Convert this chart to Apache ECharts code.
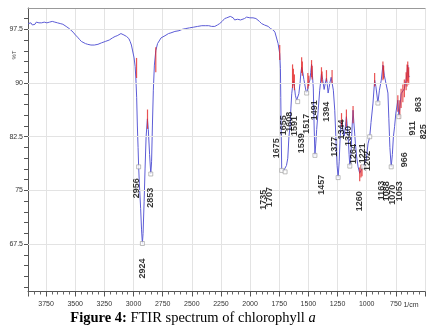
<!DOCTYPE html>
<html><head><meta charset="utf-8">
<script src="https://cdn.jsdelivr.net/npm/echarts@6/dist/echarts.min.js"></script>
<style>html,body{margin:0;padding:0;background:#fff;}#c{width:427px;height:326px;}</style>
</head><body><div id="c"></div>
<script>
// ---- data ----
const wavenumbers = [3903,3891,3880,3868,3857,3845,3834,3822,3811,3800,3788,3777,3766,3754,3743,3731,3720,3709,3697,3686,3675,3663,3652,3640,3629,3618,3606,3592,3578,3567,3552,3535,3518,3498,3480,3464,3447,3430,3412,3393,3365,3336,3305,3276,3242,3208,3180,3158,3140,3123,3108,3095,3082,3071,3060,3052,3040,3029,3018,3009,2995,2986,2980,2973,2967,2961,2956,2950,2939,2931,2924,2918,2909,2901,2892,2881,2873,2862,2852,2845,2838,2830,2821,2809,2794,2764,2730,2700,2679,2645,2610,2580,2551,2520,2483,2450,2414,2385,2355,2330,2303,2280,2261,2240,2218,2200,2184,2170,2158,2145,2133,2120,2107,2095,2082,2065,2048,2030,2016,2002,1988,1975,1962,1950,1936,1920,1902,1890,1877,1860,1845,1825,1802,1787,1774,1760,1746,1740,1737,1734,1729,1714,1700,1688,1677,1667,1657,1650,1643,1636,1629,1620,1612,1601,1592,1582,1572,1565,1558,1548,1539,1529,1522,1515,1505,1497,1487,1480,1473,1465,1458,1451,1444,1437,1429,1416,1403,1388,1378,1365,1355,1345,1338,1331,1322,1316,1305,1297,1286,1274,1262,1254,1245,1236,1230,1224,1216,1206,1194,1185,1174,1168,1159,1151,1145,1134,1125,1117,1108,1097,1087,1074,1060,1049,1032,1019,1004,989,974,963,946,932,921,904,891,875,861,848,833,818,810,801,790,780,771,761,750,733,724,716,705,690,677,662,654,648,639,633];
const transmittance = [98.3,98.2,98.4,98.1,98.3,98.2,98.5,98.3,98.4,98.2,98.4,98.3,98.5,98.3,98.4,98.6,98.5,98.7,98.6,98.8,98.5,98.6,98.4,98.5,98.3,98.3,98.2,98.1,97.9,97.8,97.6,97.4,97.1,96.7,96.4,96.1,95.8,95.6,95.5,95.4,95.3,95.3,95.4,95.6,95.8,96.0,96.3,96.5,96.6,96.8,96.9,96.8,96.7,96.6,96.5,96.5,96.2,95.8,95.3,94.6,93.5,92.3,90.7,88.0,84.0,81.0,78.3,76.0,72.5,69.5,67.6,69.0,73.5,78.0,82.5,85.0,83.5,80.0,77.3,79.0,84.0,89.0,92.5,94.5,95.5,96.3,96.6,96.9,97.0,97.2,97.3,97.5,97.6,97.7,97.8,97.9,98.0,98.0,98.0,97.9,97.9,98.1,98.3,98.6,99.0,99.1,99.2,99.3,99.4,99.1,98.8,98.9,98.9,98.8,98.8,98.9,99.0,99.2,99.3,99.1,99.0,99.1,99.1,99.0,98.9,98.6,98.3,98.2,98.1,98.0,97.9,97.6,97.4,97.1,96.9,95.5,94.1,92.0,88.0,83.9,78.0,77.7,77.6,78.5,79.5,82.5,84.0,86.5,88.5,89.5,90.3,89.5,88.3,87.6,87.4,88.5,89.9,91.4,92.2,91.5,90.5,90.3,89.0,88.6,89.2,90.0,90.4,91.5,92.6,91.0,89.3,84.0,79.9,81.5,83.5,86.2,89.0,91.3,90.5,89.1,90.0,90.7,89.8,88.6,89.4,90.0,90.8,91.0,89.0,86.2,81.5,78.5,76.8,79.0,81.5,83.5,84.8,83.8,82.5,83.6,85.3,84.3,82.5,80.0,78.4,80.5,84.0,86.2,84.0,81.6,79.8,78.3,77.4,77.8,78.3,78.8,79.3,81.5,82.5,84.5,87.2,90.4,89.5,87.2,89.0,90.4,92.5,91.0,90.9,88.6,85.0,81.0,78.3,80.0,82.5,83.9,85.8,87.6,85.3,86.5,88.5,88.6,89.2,90.4,91.5,92.5,90.8,90.9];

// picked-peak markers (small boxes at minima)
const markerWn = [2956,2924,2852,1729,1700,1592,1515,1444,1245,1145,1032,974,904,790,724];
const markerT  = [78.3,67.6,77.3,77.8,77.6,87.4,88.6,79.9,76.8,78.4,78.3,82.5,87.2,78.3,85.3];

// red peak-pick traces (wavenumber, top %T, bottom %T)
const redWn     = [2974,2880,2809,1746,1636,1629,1620,1558,1552,1505,1497,1473,1468,1388,1383,1345,1297,1216,1174,1117,1060,1049,1040,932,861,855,733,716,705,690,677,662,654,648,640];
const redTop    = [93.5,86.3,95.0,95.3,92.6,92.0,91.2,93.6,93.0,91.4,91.0,93.2,92.4,92.2,91.6,91.8,91.8,85.8,86.3,86.8,78.2,78.6,78.4,91.4,93.0,92.4,88.3,87.6,89.2,89.8,90.5,91.5,92.6,93.0,92.2];
const redBottom = [90.7,83.6,91.5,93.2,89.3,89.8,89.0,91.4,91.0,89.2,89.6,90.8,90.5,90.2,90.0,90.2,90.0,83.9,83.9,84.4,76.3,76.8,77.0,89.5,90.4,90.6,86.0,85.0,86.5,87.3,88.0,89.0,89.5,90.2,89.8];

// peak labels as placed in the figure
const peakLabels = ['2956','2853','2924','1735','1707','1675','1655','1608','1591','1539','1517','1491','1457','1394','1377','1344','1340','1264','1260','1221','1202','1163','1088','1070','1053','966','911','863','825'];
const peakLabelWn = [2978,2855,2924,1887,1834,1772,1715,1663,1615,1558,1516,1444,1388,1345,1273,1217,1160,1117,1060,1032,989,875,827,776,718,676,611,553,511];
const peakLabelT  = [75.3,74.0,64.1,73.7,74.1,80.9,84.1,84.6,84.0,81.6,84.3,86.2,75.8,86.0,81.1,83.5,82.6,80.1,73.5,80.2,79.1,75.0,74.9,74.4,74.9,79.3,83.7,87.0,83.2];

const xTickStep = 250;
const xUnitLabel = '1/cm';
const yTickLabels = [67.5, 75, 82.5, 90, 97.5];
const yMinorStep = 1.5;
const yTickValues = [];
for (let v = 61.5; v <= 100; v += yMinorStep) yTickValues.push(Math.round(v * 10) / 10);

// ---- chart ----
const spectrum = wavenumbers.map((w, i) => [w, transmittance[i]]);
const markers = markerWn.map((w, i) => [w, markerT[i]]);
const redSegs = redWn.map((w, i) => [w, redTop[i], redBottom[i]]);
const labelData = peakLabels.map((t, i) => ({ name: t, value: [peakLabelWn[i], peakLabelT[i]] }));

const tickFont = "'Liberation Sans Narrow','Liberation Sans',Arial,sans-serif";
const chart = echarts.init(document.getElementById('c'));
chart.setOption({
  animation: false,
  grid: { left: 28, right: 2, top: 8, bottom: 34.5 },
  xAxis: [{
    type: 'value', min: 500, max: 3905, interval: xTickStep, inverse: true,
    axisLine: { show: true, lineStyle: { color: '#555', width: 1 } },
    axisTick: { show: true, length: 5, lineStyle: { color: '#555' } },
    minorTick: { show: true, splitNumber: 5, length: 3, lineStyle: { color: '#666' } },
    axisLabel: { fontSize: 7, color: '#333', margin: 9, fontFamily: tickFont,
      showMinLabel: false, showMaxLabel: false,
      formatter: v => (v === 500 || v % xTickStep !== 0 ? '' : String(v)) },
    splitLine: { show: true, lineStyle: { color: '#e3e3e3', width: 1 } }
  }, {
    type: 'value', position: 'top', min: 500, max: 3905, inverse: true,
    axisLine: { show: true, lineStyle: { color: '#999', width: 1 } },
    axisTick: { show: false }, axisLabel: { show: false }, splitLine: { show: false }
  }],
  yAxis: {
    type: 'value', min: 60.9, max: 100.47,
    axisLine: { show: true, lineStyle: { color: '#555', width: 1 } },
    axisTick: { show: true, length: 4, customValues: yTickValues, lineStyle: { color: '#555' } },
    axisLabel: { customValues: yTickLabels, fontSize: 7, color: '#333', margin: 5, fontFamily: tickFont,
      formatter: v => String(v) },
    splitLine: { show: false }
  },
  graphic: [
    { type: 'text', x: 14, y: 55, rotation: Math.PI / 2,
      style: { text: '%T', fontSize: 6, fill: '#444', align: 'center', verticalAlign: 'middle', fontFamily: 'Liberation Sans' } },
    { type: 'text', x: 411, y: 305,
      style: { text: xUnitLabel, fontSize: 7, fill: '#333', align: 'center', verticalAlign: 'middle', fontFamily: tickFont } },
    { type: 'text', x: 193, y: 318,
      style: { text: '{a|Figure 4:}{b| FTIR spectrum of chlorophyll }{c|a}', align: 'center', verticalAlign: 'middle',
        rich: {
          a: { fontFamily: 'Liberation Serif', fontSize: 14.5, fontWeight: 'bold', fill: '#000' },
          b: { fontFamily: 'Liberation Serif', fontSize: 14.5, fill: '#000' },
          c: { fontFamily: 'Liberation Serif', fontSize: 14.5, fontStyle: 'italic', fill: '#000' }
        } } }
  ],
  series: [
    { type: 'line', data: [], z: 1, silent: true,
      markLine: { silent: true, symbol: 'none', label: { show: false },
        lineStyle: { color: '#e3e3e3', type: 'solid', width: 1 },
        data: yTickLabels.map(v => ({ yAxis: v })) } },
    { type: 'line', data: spectrum, showSymbol: false, symbol: 'none', z: 3,
      lineStyle: { color: '#5c5cd6', width: 1 } },
    { type: 'custom', data: redSegs, z: 4, encode: { x: 0, y: [1, 2] },
      renderItem: (params, api) => {
        const p1 = api.coord([api.value(0), api.value(1)]);
        const p2 = api.coord([api.value(0), api.value(2)]);
        return { type: 'line', shape: { x1: p1[0], y1: p1[1], x2: p2[0], y2: p2[1] },
          style: { stroke: 'rgba(228,40,40,0.8)', lineWidth: 1.2 } };
      } },
    { type: 'scatter', data: markers, symbol: 'rect', symbolSize: 4, z: 5,
      itemStyle: { color: '#fff', borderColor: '#999', borderWidth: 0.8 } },
    { type: 'scatter', data: labelData, symbolSize: 2, z: 6,
      itemStyle: { color: 'rgba(0,0,0,0)' },
      labelLayout: { hideOverlap: false },
      label: { show: true, position: 'inside', formatter: '{b}', rotate: 90,
        fontSize: 9, fontWeight: 'bold', color: '#000', fontFamily: 'Liberation Sans' } }
  ]
});
</script></body></html>
